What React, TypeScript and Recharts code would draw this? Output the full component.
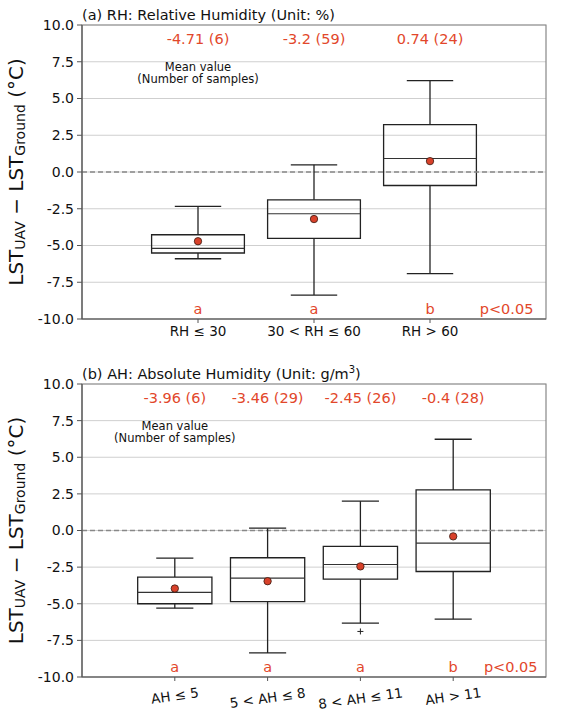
import React from 'react';
import {
  ComposedChart, XAxis, YAxis, CartesianGrid, ReferenceArea, ReferenceLine, Scatter,
} from 'recharts';

// ---------- (a) Relative humidity ----------
const RH_CATEGORIES = ['RH ≤ 30', '30 < RH ≤ 60', 'RH > 60'];
const RH_MIN = [-5.9, -8.37, -6.92];
const RH_Q1 = [-5.51, -4.52, -0.92];
const RH_MEDIAN = [-5.2, -2.84, 0.92];
const RH_Q3 = [-4.27, -1.89, 3.22];
const RH_MAX = [-2.34, 0.49, 6.22];
const RH_MEAN = [-4.71, -3.2, 0.74];
const RH_N = [6, 59, 24];
const RH_LETTERS = ['a', 'a', 'b'];
const RH_OUTLIER_CAT: number[] = [];
const RH_OUTLIER_VAL: number[] = [];

// ---------- (b) Absolute humidity ----------
const AH_CATEGORIES = ['AH ≤ 5', '5 < AH ≤ 8', '8 < AH ≤ 11', 'AH > 11'];
const AH_MIN = [-5.3, -8.36, -6.32, -6.05];
const AH_Q1 = [-5.0, -4.86, -3.32, -2.8];
const AH_MEDIAN = [-4.23, -3.25, -2.32, -0.86];
const AH_Q3 = [-3.18, -1.86, -1.09, 2.77];
const AH_MAX = [-1.89, 0.16, 2.0, 6.23];
const AH_MEAN = [-3.96, -3.46, -2.45, -0.4];
const AH_N = [6, 29, 26, 28];
const AH_LETTERS = ['a', 'a', 'a', 'b'];
const AH_OUTLIER_CAT = [3];
const AH_OUTLIER_VAL = [-6.89];

const Y_TICKS = [-10, -7.5, -5, -2.5, 0, 2.5, 5, 7.5, 10];
const SIGNIFICANCE = 'p<0.05';
const NOTE_LINE1 = 'Mean value';
const NOTE_LINE2 = '(Number of samples)';

const FONT = '"DejaVu Sans", Verdana, sans-serif';
const RED = '#e2472b';
const W = 566;

const YLabel = (props: any) => {
  const vb = props.viewBox || { x: 0, y: 0, width: 82, height: 294 };
  const cx = 16;
  const cy = vb.y + vb.height / 2;
  return (
    <text
      x={cx}
      y={cy}
      transform={`rotate(-90, ${cx}, ${cy})`}
      textAnchor="middle"
      dominantBaseline="central"
      fontSize={20}
      fontFamily={FONT}
      fill="#111"
    >
      LST
      <tspan fontSize={14} dy={4}>UAV</tspan>
      <tspan dy={-4}> − LST</tspan>
      <tspan fontSize={14} dy={4}>Ground</tspan>
      <tspan dy={-4}> (°C)</tspan>
    </text>
  );
};

type PanelProps = {
  title: React.ReactNode;
  cats: string[];
  min: number[];
  q1: number[];
  med: number[];
  q3: number[];
  max: number[];
  mean: number[];
  n: number[];
  letters: string[];
  outCat: number[];
  outVal: number[];
  height: number;
  top: number;
  xAxisHeight: number;
  rotate: number;
  tickOffset: number;
  pX: number;
};

const Panel = (p: PanelProps) => {
  const xMax = p.cats.length + 1;
  const idx = p.cats.map((_, i) => i + 1);
  const meanData = idx.map((x, i) => ({ x, y: p.mean[i] }));
  const meanLabels = idx.map((x, i) => ({ x, y: 9.05, label: `${p.mean[i]} (${p.n[i]})` }));
  const letterLabels = idx.map((x, i) => ({ x, y: -9.35, label: p.letters[i] }));
  const pLabel = [{ x: p.pX, y: -9.35, label: SIGNIFICANCE }];
  const note = [{ x: 1, y: 6.74, l1: NOTE_LINE1, l2: NOTE_LINE2 }];
  const outliers = p.outCat.map((c, i) => ({ x: c, y: p.outVal[i] }));
  const half = 0.4;
  const cap = 0.2;
  const boxStroke = '#222';
  const lw = 1.3;

  const redText = (size: number) => (s: any) => (
    <text x={s.cx} y={s.cy} textAnchor="middle" dominantBaseline="central"
      fontSize={size} fontFamily={FONT} fill={RED}>{s.payload.label}</text>
  );
  const noteText = (s: any) => (
    <text x={s.cx} y={s.cy} textAnchor="middle" fontSize={11.5} fontFamily={FONT} fill="#111">
      <tspan x={s.cx} dy={-2}>{s.payload.l1}</tspan>
      <tspan x={s.cx} dy={12}>{s.payload.l2}</tspan>
    </text>
  );

  const XTick = (t: any) => {
    const label = p.cats[Math.round(t.payload.value) - 1] ?? '';
    const fs = 13.5;
    const w = label.length * fs * 0.58;
    const rad = (p.rotate * Math.PI) / 180;
    const bboxH = w * Math.sin(rad) + fs * 1.15 * Math.cos(rad);
    const cy = t.y + p.tickOffset + bboxH / 2;
    return (
      <g transform={`translate(${t.x}, ${cy}) rotate(${-p.rotate})`}>
        <text x={0} y={0} textAnchor="middle" dominantBaseline="central"
          fontSize={fs} fontFamily={FONT} fill="#111">{label}</text>
      </g>
    );
  };

  return (
    <div style={{ position: 'relative', width: W, height: p.height }}>
      <div style={{
        position: 'absolute', left: 82, top: p.top - 19, fontFamily: FONT, fontSize: 14.5,
        lineHeight: '18px', color: '#111', whiteSpace: 'nowrap',
      }}>{p.title}</div>
      <ComposedChart width={W} height={p.height} data={meanData}
        margin={{ top: p.top, right: 20, bottom: 0, left: 0 }}>
        <CartesianGrid vertical={false} stroke="#cfcfcf" strokeWidth={1} />
        <XAxis
          type="number" dataKey="x" domain={[0, xMax]} ticks={idx} interval={0}
          allowDataOverflow height={p.xAxisHeight} tick={XTick as any}
          tickSize={4} tickMargin={2}
          axisLine={{ stroke: '#555', strokeWidth: 1.2 }} tickLine={{ stroke: '#555' }}
        />
        <YAxis
          type="number" domain={[-10, 10]} ticks={Y_TICKS} interval={0} allowDataOverflow
          width={82} tickFormatter={(v: number) => v.toFixed(1)}
          tick={{ fontSize: 14, fontFamily: FONT, fill: '#111' }}
          tickSize={5} tickMargin={3}
          axisLine={{ stroke: '#555', strokeWidth: 1.2 }} tickLine={{ stroke: '#555' }}
          label={<YLabel />}
        />
        <ReferenceArea x1={0} x2={xMax} y1={-10} y2={10} fill="none" fillOpacity={0}
          stroke="#888" strokeWidth={1.2} ifOverflow="visible" />
        <ReferenceLine y={0} stroke="#888" strokeWidth={1.3} strokeDasharray="5 3" />
        {idx.map((x, i) => (
          <ReferenceArea key={`box${i}`} x1={x - half} x2={x + half} y1={p.q1[i]} y2={p.q3[i]}
            fill="none" fillOpacity={0} stroke={boxStroke} strokeWidth={lw} strokeOpacity={1}
            ifOverflow="visible" />
        ))}
        {idx.map((x, i) => (
          <ReferenceLine key={`med${i}`} segment={[{ x: x - half, y: p.med[i] }, { x: x + half, y: p.med[i] }]}
            stroke="#333" strokeWidth={1.2} ifOverflow="visible" />
        ))}
        {idx.map((x, i) => (
          <ReferenceLine key={`wu${i}`} segment={[{ x, y: p.q3[i] }, { x, y: p.max[i] }]}
            stroke={boxStroke} strokeWidth={lw} ifOverflow="visible" />
        ))}
        {idx.map((x, i) => (
          <ReferenceLine key={`wl${i}`} segment={[{ x, y: p.min[i] }, { x, y: p.q1[i] }]}
            stroke={boxStroke} strokeWidth={lw} ifOverflow="visible" />
        ))}
        {idx.map((x, i) => (
          <ReferenceLine key={`cu${i}`} segment={[{ x: x - cap, y: p.max[i] }, { x: x + cap, y: p.max[i] }]}
            stroke={boxStroke} strokeWidth={lw} ifOverflow="visible" />
        ))}
        {idx.map((x, i) => (
          <ReferenceLine key={`cl${i}`} segment={[{ x: x - cap, y: p.min[i] }, { x: x + cap, y: p.min[i] }]}
            stroke={boxStroke} strokeWidth={lw} ifOverflow="visible" />
        ))}
        <Scatter data={outliers} dataKey="y" isAnimationActive={false}
          shape={(s: any) => (
            <g stroke="#222" strokeWidth={1}>
              <line x1={s.cx - 3} x2={s.cx + 3} y1={s.cy} y2={s.cy} />
              <line x1={s.cx} x2={s.cx} y1={s.cy - 3} y2={s.cy + 3} />
            </g>
          )} />
        <Scatter data={meanData} dataKey="y" isAnimationActive={false}
          shape={(s: any) => (
            <circle cx={s.cx} cy={s.cy} r={3.7} fill="#d8412a" stroke="#3a1a12" strokeWidth={0.8} />
          )} />
        <Scatter data={meanLabels} dataKey="y" isAnimationActive={false} shape={redText(14.5)} />
        <Scatter data={letterLabels} dataKey="y" isAnimationActive={false} shape={redText(14.5)} />
        <Scatter data={pLabel} dataKey="y" isAnimationActive={false} shape={redText(14.5)} />
        <Scatter data={note} dataKey="y" isAnimationActive={false} shape={noteText} />
      </ComposedChart>
    </div>
  );
};

export default function App() {
  return (
    <div style={{ position: 'absolute', left: 0, top: 0, width: W, height: 711, background: '#fff' }}>
      <Panel
        title="(a) RH: Relative Humidity (Unit: %)"
        cats={RH_CATEGORIES} min={RH_MIN} q1={RH_Q1} med={RH_MEDIAN} q3={RH_Q3} max={RH_MAX}
        mean={RH_MEAN} n={RH_N} letters={RH_LETTERS} outCat={RH_OUTLIER_CAT} outVal={RH_OUTLIER_VAL}
        height={355} top={25} xAxisHeight={36} rotate={0} tickOffset={-1.5} pX={3.66}
      />
      <Panel
        title={<span>(b) AH: Absolute Humidity (Unit: g/m<sup style={{ fontSize: 10, verticalAlign: 'super', lineHeight: 0 }}>3</sup>)</span>}
        cats={AH_CATEGORIES} min={AH_MIN} q1={AH_Q1} med={AH_MEDIAN} q3={AH_Q3} max={AH_MAX}
        mean={AH_MEAN} n={AH_N} letters={AH_LETTERS} outCat={AH_OUTLIER_CAT} outVal={AH_OUTLIER_VAL}
        height={356} top={29} xAxisHeight={34} rotate={8} tickOffset={1.5} pX={4.62}
      />
    </div>
  );
}
